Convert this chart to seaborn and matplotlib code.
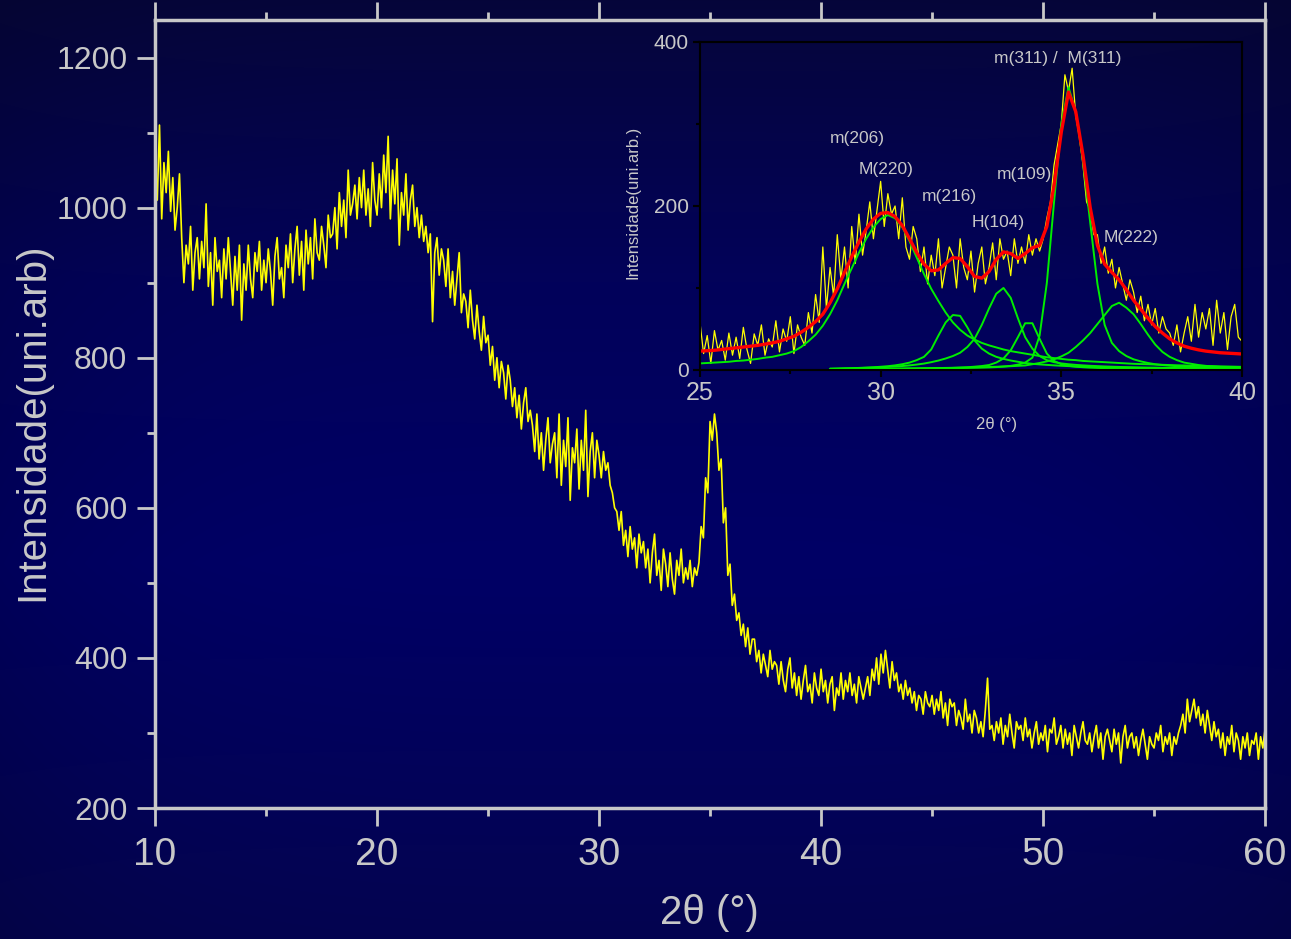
import numpy as np
import matplotlib
matplotlib.use("Agg")
import matplotlib.pyplot as plt
import seaborn as sns
from matplotlib.ticker import MultipleLocator

# ---- main XRD pattern, 10-60 deg, 0.1 deg step
main_counts = [
    1045, 1010, 1110, 985, 1060, 1020, 1075, 995, 1040, 970,
    1000, 1045, 960, 900, 950, 925, 975, 890, 940, 960,
    905, 955, 920, 1005, 895, 940, 870, 960, 915, 930,
    880, 945, 905, 960, 915, 870, 935, 890, 950, 850,
    925, 890, 950, 905, 880, 940, 915, 955, 890, 930,
    900, 945, 915, 870, 935, 960, 905, 920, 880, 950,
    920, 965, 900, 945, 975, 910, 955, 890, 970, 925,
    960, 905, 985, 940, 930, 975, 950, 920, 990, 960,
    965, 1000, 945, 1020, 975, 1010, 960, 1050, 990, 1005,
    1030, 985, 1040, 1000, 1050, 990, 1025, 975, 1060, 1010,
    990, 1045, 1000, 1070, 1020, 1095, 985, 1050, 1005, 1065,
    950, 1020, 990, 1045, 970, 1010, 1030, 975, 1000, 960,
    990, 955, 975, 940, 965, 848, 940, 960, 910, 945,
    930, 895, 945, 880, 915, 870, 905, 940, 860, 885,
    875, 840, 890, 850, 825, 870, 835, 810, 855, 820,
    830, 790, 815, 770, 800, 760, 795, 780, 745, 790,
    770, 735, 760, 720, 750, 705, 740, 760, 715, 730,
    710, 675, 725, 665, 700, 650, 690, 720, 660, 685,
    700, 640, 725, 630, 690, 655, 720, 610, 680, 660,
    705, 625, 690, 650, 730, 615, 675, 700, 640, 690,
    670, 640, 675, 650, 660, 630, 620, 600, 595, 570,
    595, 550, 570, 535, 575, 545, 560, 520, 565, 540,
    555, 520, 545, 500, 540, 565, 510, 530, 490, 545,
    525, 495, 540, 505, 485, 530, 510, 545, 500, 520,
    505, 530, 495, 520, 510, 527, 575, 560, 640, 620,
    715, 690, 725, 700, 650, 665, 580, 600, 510, 525,
    470, 485, 450, 460, 430, 445, 415, 440, 405, 425,
    425, 395, 410, 380, 405, 390, 375, 410, 385, 395,
    390, 365, 395, 370, 355, 385, 400, 360, 380, 350,
    375, 345, 370, 390, 355, 365, 340, 380, 360, 350,
    385, 355, 370, 340, 365, 375, 330, 360, 350, 380,
    345, 370, 355, 380, 350, 365, 340, 375, 360, 345,
    360, 375, 350, 385, 370, 400, 365, 405, 380, 410,
    385, 360, 395, 370, 380, 355, 365, 345, 370, 350,
    360, 340, 355, 330, 350, 345, 325, 355, 340, 335,
    350, 325, 345, 330, 355, 320, 340, 310, 345, 335,
    340, 310, 330, 320, 305, 345, 315, 325, 300, 330,
    320, 300, 315, 295, 330, 373, 305, 310, 290, 315,
    300, 320, 285, 310, 295, 325, 300, 280, 315, 305,
    310, 290, 320, 295, 305, 280, 300, 315, 285, 300,
    290, 310, 275, 305, 300, 320, 285, 295, 310, 280,
    305, 285, 300, 270, 310, 295, 280, 300, 315, 290,
    285, 300, 275, 295, 310, 280, 300, 265, 295, 305,
    290, 275, 305, 285, 300, 260, 295, 310, 280, 295,
    300, 280, 295, 270, 290, 305, 285, 265, 295, 285,
    280, 300, 290, 310, 275, 295, 285, 300, 270, 295,
    285, 300, 310, 325, 300, 345, 315, 330, 345, 320,
    335, 310, 325, 300, 330, 310, 290, 315, 295, 305,
    280, 300, 270, 295, 285, 310, 275, 300, 290, 265,
    295, 280, 300, 270, 290, 285, 300, 265, 295, 280,
    305,
]
main_2theta = np.linspace(10, 60, len(main_counts))

# ---- inset: background-subtracted 25-40 deg, 0.1 deg step
inset_counts = [
    58, 20, 42, 8, 48, 24, 36, 12, 45, 18,
    40, 14, 52, 25, 8, 44, 30, 55, 18, 38,
    28, 60, 22, 50, 35, 65, 20, 55, 40, 30,
    70, 45, 92, 58, 150, 75, 125, 90, 165, 110,
    150, 100, 175, 130, 190, 140, 170, 205, 160, 195,
    230, 175, 215, 190, 200, 160, 210, 150, 135, 175,
    160, 120, 150, 105, 140, 115, 160, 100, 125, 150,
    140, 100, 160, 125, 110, 145, 95, 130, 150, 105,
    125, 155, 110, 160, 135, 145, 115, 160, 130, 150,
    130, 165, 140, 160, 145, 160, 185, 205, 250, 275,
    300, 360, 340, 368, 310, 285, 250, 205, 195, 165,
    165, 130, 150, 118, 135, 100, 125, 105, 85, 110,
    95, 70, 90, 60, 80, 55, 75, 45, 65, 50,
    45, 30, 55, 22, 45, 65, 35, 80, 40, 70,
    50, 75, 30, 85, 45, 70, 25, 65, 80, 40,
    35,
]
inset_2theta = np.linspace(25, 40, len(inset_counts))

# ---- fitted profiles, 0.2 deg step
fit_sum = [
    23, 23.5, 24, 25, 26, 27, 28, 29, 30, 31.5,
    33, 35, 38, 41, 46, 52, 59, 68, 82, 99,
    119, 138, 156, 172, 184, 191, 192, 187, 176, 160,
    143, 129, 121, 122, 130, 137, 136, 126, 114, 112,
    120, 135, 144, 142, 136, 142, 149, 152, 175, 225,
    290, 339, 315, 262, 198, 152, 129, 119, 110, 98,
    85, 74, 63, 53, 45, 38, 33, 29, 26.5, 24.5,
    23, 22, 21, 20.5, 20, 19.5,
]
fit_2theta = np.linspace(25, 40, len(fit_sum))

peak_M220 = [
    8, 8.5, 9, 9.5, 10, 11, 11.5, 12.5, 13.5, 15,
    16, 18, 20, 23, 28, 35, 43, 54, 68, 85,
    105, 124, 143, 160, 174, 184, 189, 185, 174, 157,
    137, 117, 99, 84, 70, 58, 49, 42, 37, 33,
    30, 27.5, 25, 23, 21.5, 20, 18.5, 17, 15.5, 14.5,
    13.5, 12.5, 12, 11, 10.5, 10, 9.5, 9, 8.5, 8,
    7.5, 7.2, 7, 6.6, 6.3, 6, 5.7, 5.5, 5.2, 5,
    4.8, 4.6, 4.4, 4.2, 4, 3.8,
]

# the narrower components start at 28.6 deg
peak_m216 = [
    1.5, 1.7, 2, 2.2, 2.5, 2.9, 3.3, 3.9, 4.6, 5.6,
    7, 9, 12, 16, 25, 42, 58, 67, 66, 52,
    36, 26, 20, 16, 13.5, 11.5, 10, 8.5, 7.5, 6.8,
    6.2, 5.6, 5.1, 4.7, 4.3, 4, 3.7, 3.4, 3.2, 3,
    2.8, 2.6, 2.5, 2.3, 2.2, 2.1, 2, 1.9, 1.8, 1.7,
    1.65, 1.6, 1.5, 1.45, 1.4, 1.35, 1.3, 1.25,
]
peak_H104 = [
    1.5, 1.7, 1.9, 2.1, 2.3, 2.6, 2.9, 3.3, 3.7, 4.2,
    4.8, 5.6, 6.6, 7.8, 9.5, 11.5, 14, 17, 21, 28,
    38, 55, 75, 93, 100, 88, 63, 40, 26, 17,
    12, 9.5, 8, 7, 6.2, 5.6, 5.1, 4.7, 4.3, 4,
    3.7, 3.5, 3.3, 3.1, 2.9, 2.8, 2.6, 2.5, 2.4, 2.3,
    2.2, 2.1, 2.0, 1.95, 1.9, 1.85, 1.8, 1.75,
]
peak_m109 = [
    0.5, 0.55, 0.6, 0.65, 0.7, 0.75, 0.8, 0.9, 1.0, 1.1,
    1.2, 1.3, 1.4, 1.6, 1.8, 2.0, 2.2, 2.5, 2.9, 3.3,
    4.0, 4.8, 6, 9, 14, 24, 40, 57, 57, 38,
    20, 11, 7, 5, 4, 3.3, 2.8, 2.5, 2.2, 2.0,
    1.8, 1.65, 1.5, 1.4, 1.3, 1.2, 1.15, 1.1, 1.05, 1.0,
    0.95, 0.9, 0.88, 0.85, 0.82, 0.8, 0.78, 0.75,
]
peak_m311 = [
    0.5, 0.6, 0.7, 0.8, 0.9, 1.0, 1.1, 1.2, 1.3, 1.4,
    1.5, 1.6, 1.7, 1.8, 1.9, 2.0, 2.1, 2.2, 2.3, 2.5,
    2.7, 2.9, 3.1, 3.5, 4.2, 5, 6.5, 9, 15, 42,
    106, 205, 300, 345, 315, 255, 180, 105, 55, 33,
    23, 17, 13, 10.5, 8.5, 7, 6, 5.2, 4.6, 4.1,
    3.7, 3.4, 3.1, 2.9, 2.7, 2.5, 2.3, 2.2,
]
peak_M222 = [
    0.8, 0.9, 1.0, 1.1, 1.2, 1.3, 1.4, 1.5, 1.6, 1.7,
    1.8, 1.9, 2.0, 2.1, 2.2, 2.35, 2.5, 2.65, 2.8, 3.0,
    3.2, 3.4, 3.6, 3.9, 4.2, 4.6, 5.0, 5.5, 7, 8.5,
    10.5, 13, 16.5, 21, 28, 36, 45, 56, 67, 78,
    82, 76, 68, 56, 43, 31, 22, 16, 12, 9,
    7.5, 6, 5, 4.3, 3.7, 3.2, 2.8, 2.5,
]
peak_2theta = np.linspace(28.6, 40, len(peak_m216))

peak_labels = ["m(206)", "M(220)", "m(216)", "H(104)", "m(109)",
               "m(311) /  M(311)", "M(222)"]
label_2theta = [29.35, 30.15, 31.89, 33.25, 33.97, 34.91, 36.93]
label_height = [282, 245, 211, 180, 238, 380, 161]

# ---- style
sns.set_style("ticks")
plt.rcParams["font.family"] = ["Liberation Sans", "DejaVu Sans"]
txt = "#c8c8c8"

fig = plt.figure(figsize=(12.91, 9.39), dpi=100)

# navy gradient backdrop
h, w = 939, 1291
ty = np.linspace(0, 1, h)
stops = [0.0, 0.3, 0.6, 1.0]
rr = np.interp(ty, stops, [6, 2, 0, 4])
bb = np.interp(ty, stops, [58, 90, 102, 80])
fx = 1 - 0.12 * np.linspace(-1, 1, w) ** 4
img = np.zeros((h, w, 3))
img[:, :, 0] = rr[:, None] * fx[None, :]
img[:, :, 1] = rr[:, None] * fx[None, :]
img[:, :, 2] = bb[:, None] * fx[None, :]
bg = fig.add_axes([0, 0, 1, 1], zorder=-10)
bg.imshow(img / 255.0, aspect="auto")
bg.set_axis_off()

# ---- main axes
ax = fig.add_axes([0.1201, 0.1395, 0.8598, 0.8392])
ax.set_facecolor("none")
sns.lineplot(x=main_2theta, y=main_counts, ax=ax, color="#ffff00",
             linewidth=1.2, estimator=None, sort=False)
ax.set_xlim(10, 60)
ax.set_ylim(200, 1250)
ax.xaxis.set_major_locator(MultipleLocator(10))
ax.xaxis.set_minor_locator(MultipleLocator(5))
ax.yaxis.set_major_locator(MultipleLocator(200))
ax.yaxis.set_minor_locator(MultipleLocator(100))
for s in ax.spines.values():
    s.set_color(txt)
    s.set_linewidth(2.5)
ax.tick_params(axis="x", which="both", bottom=True, top=True, direction="out",
               color=txt, labelcolor=txt, width=2, labelsize=28, pad=8)
ax.tick_params(axis="y", which="both", left=True, right=False, direction="out",
               color=txt, labelcolor=txt, width=2, labelsize=23, pad=7)
ax.tick_params(which="major", length=13)
ax.tick_params(which="minor", length=6)
ax.set_xlabel("2θ (°)", fontsize=29, color=txt, va="center")
ax.xaxis.set_label_coords(0.499, -0.133)
ax.set_ylabel("Intensidade(uni.arb)", fontsize=29, color=txt, va="center")
ax.yaxis.set_label_coords(-0.1108, 0.49)

# ---- inset with peak fit
ins = fig.add_axes([0.5422, 0.6060, 0.4198, 0.3493])
ins.set_facecolor("none")
sns.lineplot(x=inset_2theta, y=inset_counts, ax=ins, color="#ffff00",
             linewidth=0.9, estimator=None, sort=False)
sns.lineplot(x=fit_2theta, y=peak_M220, ax=ins, color="#00ee00",
             linewidth=1.4, estimator=None, sort=False)
for pk in [peak_m216, peak_H104, peak_m109, peak_m311, peak_M222]:
    sns.lineplot(x=peak_2theta, y=pk, ax=ins, color="#00ee00",
                 linewidth=1.4, estimator=None, sort=False)
sns.lineplot(x=fit_2theta, y=fit_sum, ax=ins, color="#ff0000",
             linewidth=2.4, estimator=None, sort=False)
ins.set_xlim(25, 40)
ins.set_ylim(0, 400)
ins.xaxis.set_major_locator(MultipleLocator(5))
ins.xaxis.set_minor_locator(MultipleLocator(2.5))
ins.yaxis.set_major_locator(MultipleLocator(200))
ins.yaxis.set_minor_locator(MultipleLocator(100))
for s in ins.spines.values():
    s.set_color("black")
    s.set_linewidth(1.5)
ins.tick_params(axis="x", which="both", direction="out", color="black",
                labelcolor=txt, width=1.5, labelsize=18, pad=3)
ins.tick_params(axis="y", which="both", direction="out", color="black",
                labelcolor=txt, width=1.5, labelsize=15, pad=3)
ins.tick_params(which="major", length=5)
ins.tick_params(which="minor", length=3)
ins.set_xlabel("2θ (°)", fontsize=12, color=txt, va="center")
ins.xaxis.set_label_coords(0.548, -0.165)
ins.set_ylabel("Intensidade(uni.arb.)", fontsize=12, color=txt, va="center")
ins.yaxis.set_label_coords(-0.1236, 0.512)

for lab, xx, yy in zip(peak_labels, label_2theta, label_height):
    ins.text(xx, yy, lab, ha="center", va="center", fontsize=12.5, color=txt)

fig.savefig("out.png", dpi=100)
